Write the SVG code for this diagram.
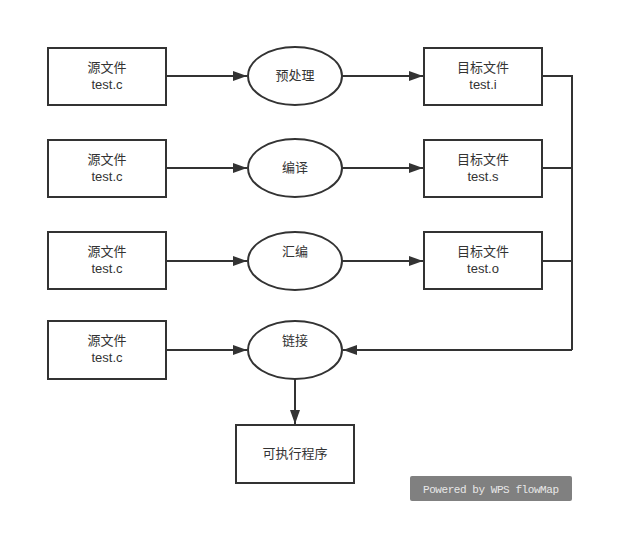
<svg xmlns="http://www.w3.org/2000/svg" width="633" height="545" viewBox="0 0 633 545">
<style>
.box{fill:#fff;stroke:#333;stroke-width:2}
.t{font-family:"Liberation Sans","Noto Sans CJK SC",sans-serif;font-size:13px;fill:#333;text-anchor:middle}
.ln{fill:none;stroke:#333;stroke-width:2}
</style>
<defs>
<marker id="ah" markerWidth="14" markerHeight="10" refX="14" refY="5" orient="auto" markerUnits="userSpaceOnUse">
<path d="M0,0 L14,5 L0,10 Z" fill="#333"/>
</marker>
</defs>
<rect width="633" height="545" fill="#fff"/>
<g id="connectors">
<line class="ln" x1="166" y1="76" x2="247" y2="76" marker-end="url(#ah)"/>
<line class="ln" x1="342" y1="76" x2="423" y2="76" marker-end="url(#ah)"/>
<line class="ln" x1="166" y1="168" x2="247" y2="168" marker-end="url(#ah)"/>
<line class="ln" x1="342" y1="168" x2="423" y2="168" marker-end="url(#ah)"/>
<line class="ln" x1="166" y1="261" x2="247" y2="261" marker-end="url(#ah)"/>
<line class="ln" x1="342" y1="261" x2="423" y2="261" marker-end="url(#ah)"/>
<line class="ln" x1="166" y1="350" x2="247" y2="350" marker-end="url(#ah)"/>
<polyline class="ln" points="542,76 572,76 572,350"/>
<polyline class="ln" points="542,168 572,168"/>
<polyline class="ln" points="542,261 572,261"/>
<line class="ln" x1="572" y1="350" x2="343" y2="350" marker-end="url(#ah)"/>
<line class="ln" x1="295" y1="379" x2="295" y2="424" marker-end="url(#ah)"/>
</g>
<g id="src1"><rect class="box" x="48" y="48" width="118" height="57"/><text class="t" x="107" y="72">源文件</text><text class="t" x="107" y="89">test.c</text></g>
<g id="src2"><rect class="box" x="48" y="140" width="118" height="57"/><text class="t" x="107" y="164">源文件</text><text class="t" x="107" y="181">test.c</text></g>
<g id="src3"><rect class="box" x="48" y="232" width="118" height="57"/><text class="t" x="107" y="256">源文件</text><text class="t" x="107" y="273">test.c</text></g>
<g id="src4"><rect class="box" x="48" y="321" width="118" height="58"/><text class="t" x="107" y="345">源文件</text><text class="t" x="107" y="362">test.c</text></g>
<g id="preprocess"><ellipse class="box" cx="295" cy="76" rx="47" ry="29"/><text class="t" x="295" y="80">预处理</text></g>
<g id="compile"><ellipse class="box" cx="295" cy="168" rx="47" ry="29"/><text class="t" x="295" y="172">编译</text></g>
<g id="assemble"><ellipse class="box" cx="295" cy="261" rx="47" ry="29"/><text class="t" x="295" y="256">汇编</text></g>
<g id="link"><ellipse class="box" cx="295" cy="350" rx="47" ry="29"/><text class="t" x="295" y="345">链接</text></g>
<g id="out1"><rect class="box" x="424" y="48" width="118" height="57"/><text class="t" x="483" y="72">目标文件</text><text class="t" x="483" y="89">test.i</text></g>
<g id="out2"><rect class="box" x="424" y="140" width="118" height="57"/><text class="t" x="483" y="164">目标文件</text><text class="t" x="483" y="181">test.s</text></g>
<g id="out3"><rect class="box" x="424" y="232" width="118" height="57"/><text class="t" x="483" y="256">目标文件</text><text class="t" x="483" y="273">test.o</text></g>
<g id="exe"><rect class="box" x="236" y="425" width="118" height="58"/><text class="t" x="295" y="458">可执行程序</text></g>
<g id="watermark"><rect x="410" y="476" width="162" height="25" rx="2" fill="#808080"/><text x="423" y="493" font-family="'Liberation Mono',monospace" font-size="11" fill="#e8e8e8" textLength="136" lengthAdjust="spacing">Powered by WPS flowMap</text></g>
</svg>
